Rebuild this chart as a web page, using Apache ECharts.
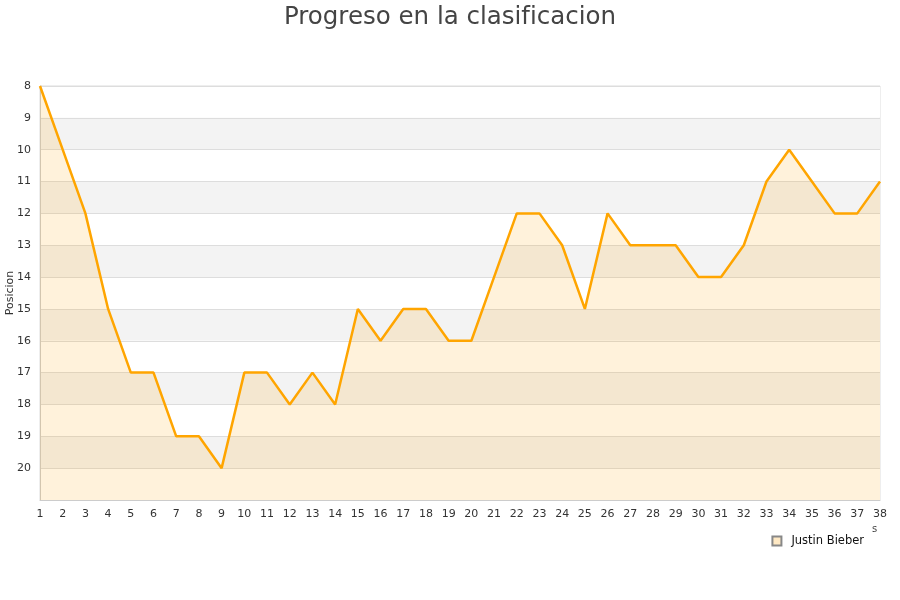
<!DOCTYPE html>
<html lang="es">
<head>
<meta charset="UTF-8">
<title>Progreso en la clasificacion</title>
<script src="https://cdn.jsdelivr.net/npm/echarts@6/dist/echarts.min.js"></script>
<style>
  html, body { margin: 0; padding: 0; background: #fff; }
  #chart { width: 900px; height: 600px; }
</style>
</head>
<body>
<div id="chart"></div>
<script>
// jornadas y posiciones
var jornadas = ['1','2','3','4','5','6','7','8','9','10','11','12','13','14','15','16','17','18','19',
                '20','21','22','23','24','25','26','27','28','29','30','31','32','33','34','35','36','37','38'];
var posiciones = [8, 10, 12, 15, 17, 17, 19, 19, 20, 17, 17, 18, 17, 18, 15, 16, 15, 15, 16,
                  16, 14, 12, 12, 13, 15, 12, 13, 13, 13, 14, 14, 13, 11, 10, 11, 12, 12, 11];
var serieNombre = 'Justin Bieber';

var chart = echarts.init(document.getElementById('chart'));

chart.setOption({
    backgroundColor: '#ffffff',
    textStyle: { fontFamily: 'DejaVu Sans' },
    title: {
        text: 'Progreso en la clasificacion',
        left: 'center',
        top: 0,
        textStyle: { fontSize: 24.5, fontWeight: 'normal', color: '#444', fontFamily: 'DejaVu Sans' }
    },
    legend: {
        data: [serieNombre],
        right: 31,
        top: 530,
        icon: 'rect',
        itemWidth: 9,
        itemHeight: 9,
        itemGap: 8,
        textStyle: { fontSize: 11.5, color: '#111', padding: [0, 0, 0, 5] }
    },
    grid: {
        left: 40,
        right: 20,
        top: 86,
        bottom: 100,
        containLabel: false,
        outerBoundsMode: 'none',
        show: true,
        borderColor: '#dddddd',
        borderWidth: 1
    },
    graphic: [{
        type: 'text',
        left: 872,
        top: 524,
        style: { text: 's', fontSize: 10, fill: '#444', fontFamily: 'DejaVu Sans' }
    }],
    xAxis: {
        type: 'category',
        data: jornadas,
        boundaryGap: false,
        axisLine: { lineStyle: { color: '#cccccc' } },
        axisTick: { show: false },
        axisLabel: { color: '#333', fontSize: 11, margin: 9, interval: 0 },
        splitLine: { show: false }
    },
    yAxis: {
        type: 'value',
        inverse: true,
        min: 8,
        max: 21,
        interval: 1,
        name: 'Posicion',
        nameLocation: 'middle',
        nameGap: 24,
        nameMoveOverlap: false,
        nameTextStyle: { fontSize: 11, color: '#333' },
        axisLine: { show: true, lineStyle: { color: '#cccccc' } },
        axisTick: { show: false },
        axisLabel: {
            color: '#333',
            fontSize: 11,
            margin: 9,
            formatter: function (v) { return v === 21 ? '' : v; }
        },
        splitLine: { show: true, lineStyle: { color: '#dddddd' } },
        splitArea: { show: true, areaStyle: { color: ['#ffffff', '#f3f3f3'] } }
    },
    series: [{
        name: serieNombre,
        type: 'line',
        data: posiciones,
        symbol: 'none',
        lineStyle: { color: '#ffa500', width: 2.5 },
        itemStyle: { color: '#ffe9c4', borderColor: '#888', borderWidth: 1 },
        areaStyle: { color: 'rgba(255,165,0,0.2)', origin: 'end' }
    }]
});
</script>
</body>
</html>
